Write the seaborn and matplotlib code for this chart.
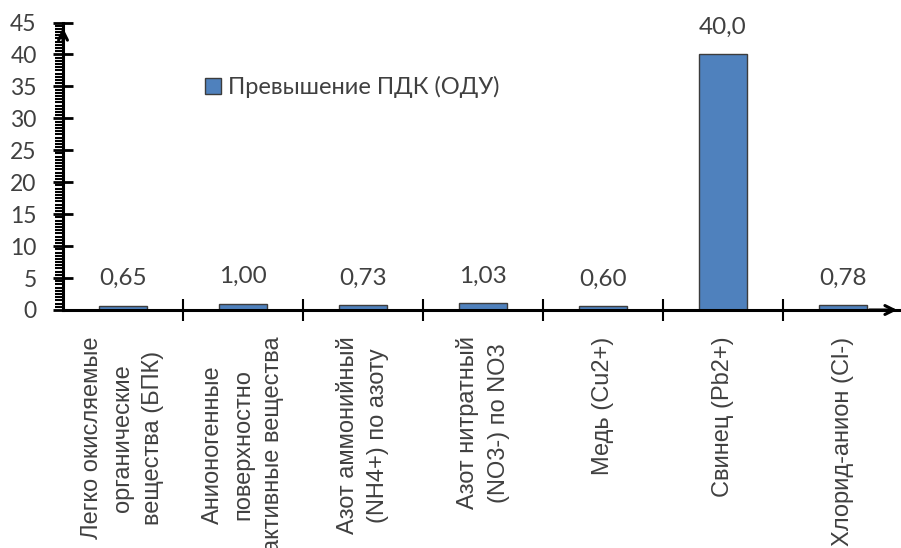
import matplotlib
matplotlib.use("Agg")
import matplotlib.pyplot as plt
from matplotlib.ticker import MultipleLocator, FixedLocator
import seaborn as sns
import pandas as pd

categories = [
    "Легко окисляемые\nорганические\nвещества (БПК)",
    "Анионогенные\nповерхностно\nактивные вещества",
    "Азот аммонийный\n(NH4+) по азоту",
    "Азот нитратный\n(NO3-) по NO3",
    "Медь (Cu2+)",
    "Свинец (Pb2+)",
    "Хлорид-анион (Cl-)",
]
values = [0.65, 1.00, 0.73, 1.03, 0.60, 40.0, 0.78]
series_name = "Превышение ПДК (ОДУ)"
y_ticks = [0, 5, 10, 15, 20, 25, 30, 35, 40, 45]

sns.set_theme(style="white")
plt.rcParams["font.family"] = ["Lato", "DejaVu Sans"]

TEXT = "#404040"
W, H = 901, 548
fig = plt.figure(figsize=(W / 100, H / 100), dpi=100)
ax = fig.add_axes([63 / W, 1 - 310 / H, (900 - 63) / W, (310 - 22.5) / H])

df = pd.DataFrame({"cat": categories, "val": values, "series": series_name})
sns.barplot(data=df, x="cat", y="val", hue="series", palette=["#4F81BD"],
            saturation=1, width=0.4, edgecolor="#3c3c3c", linewidth=1.0,
            ax=ax, zorder=2)

ax.set_xlim(-0.5, 6.475)
ax.set_ylim(0, 45)
ax.set_xlabel("")
ax.set_ylabel("")

# value labels above bars
for i, v in enumerate(values):
    txt = (f"{v:.2f}" if v < 10 else f"{v:.1f}").replace(".", ",")
    ax.annotate(txt, (i, v), xytext=(0, 12), textcoords="offset points",
                ha="center", va="bottom", fontsize=17.5, color=TEXT)

# spines
for s in ["top", "right"]:
    ax.spines[s].set_visible(False)
for s in ["left", "bottom"]:
    ax.spines[s].set_color("black")
    ax.spines[s].set_linewidth(2.2)
    ax.spines[s].set_zorder(3)

# axis arrows
ax.annotate("", xy=(0, 44.6), xytext=(0, 41.5),
            xycoords=("axes fraction", "data"), textcoords=("axes fraction", "data"),
            arrowprops=dict(arrowstyle="->", color="black", lw=2.2,
                            mutation_scale=16), annotation_clip=False)
ax.annotate("", xy=(1.0, 0), xytext=(0.96, 0),
            xycoords="axes fraction", textcoords="axes fraction",
            arrowprops=dict(arrowstyle="->", color="black", lw=2.2,
                            mutation_scale=16), annotation_clip=False)

# y axis ticks
ax.yaxis.set_major_locator(FixedLocator(y_ticks))
ax.yaxis.set_minor_locator(MultipleLocator(0.5))
ax.tick_params(axis="y", which="major", direction="inout", length=14, width=2,
               color="black", left=True, labelsize=16.5, labelcolor=TEXT, pad=12)
ax.tick_params(axis="y", which="minor", direction="out", length=6, width=1.5,
               color="black", left=True)

# x axis: category labels centred, separator ticks between categories
ax.set_xticks(range(len(categories)))
ax.set_xticklabels(categories, rotation=90, ha="center", va="top",
                   multialignment="center", fontsize=17, linespacing=1.5,
                   fontfamily=["Liberation Sans", "DejaVu Sans"], color=TEXT)
ax.xaxis.set_minor_locator(FixedLocator([0.5, 1.5, 2.5, 3.5, 4.5, 5.5]))
ax.tick_params(axis="x", which="major", length=0, pad=19)
ax.tick_params(axis="x", which="minor", direction="inout", length=16, width=1.5,
               color="black", bottom=True)

# legend
leg = ax.legend(loc="center left", bbox_to_anchor=(196 / W, 1 - 87 / H),
                bbox_transform=fig.transFigure, frameon=False, fontsize=17,
                handlelength=0.65, handleheight=0.65, handletextpad=0.3,
                borderaxespad=0)
for t in leg.get_texts():
    t.set_color(TEXT)

fig.savefig("out.png", dpi=100)
